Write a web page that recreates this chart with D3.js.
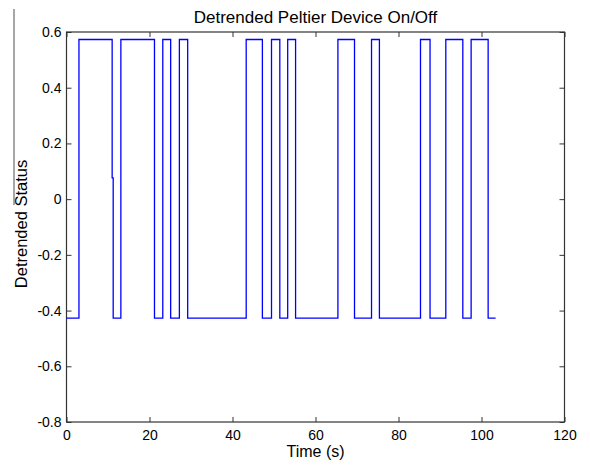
<!DOCTYPE html>
<html>
<head>
<meta charset="utf-8">
<script src="https://cdn.jsdelivr.net/npm/d3@7"></script>
<style>
  html, body { margin: 0; padding: 0; background: #fff; }
  svg { display: block; font-family: "Liberation Sans", Arial, Helvetica, sans-serif; }
  .axis text { font-size: 14px; fill: #000; }
  .axis path { display: none; }
  .axis line { stroke: #333; }
</style>
</head>
<body>
<svg id="chart" width="590" height="466"></svg>
<script>
// DATA: times (s) where the status changes, and the level held from that time on
const stepTimes = [0, 3.0, 11.0, 11.25, 13.1, 21.2, 23.2, 25.1, 27.2, 29.2, 43.3, 47.2,
  49.4, 51.4, 53.3, 55.2, 65.4, 69.4, 73.5, 75.4, 85.3, 87.6, 91.4, 95.5, 97.5, 101.6, 103.4];
const statusValues = [-0.427, 0.573, 0.076, -0.427, 0.573, -0.427, 0.573, -0.427, 0.573, -0.427, 0.573, -0.427,
  0.573, -0.427, 0.573, -0.427, 0.573, -0.427, 0.573, -0.427, 0.573, -0.427, 0.573, -0.427, 0.573, -0.427, -0.427];

const xTicks = [0, 20, 40, 60, 80, 100, 120];
const yTicks = [-0.8, -0.6, -0.4, -0.2, 0, 0.2, 0.4, 0.6];

const titleText = "Detrended Peltier Device On/Off";
const xLabel = "Time (s)";
const yLabel = "Detrended Status";

// LAYOUT
const plot = { left: 66.5, right: 564.5, top: 32, bottom: 422 };

const svg = d3.select("#chart");

// scan artifact at the far left of the figure
svg.append("line")
  .attr("x1", 14).attr("x2", 14)
  .attr("y1", 9).attr("y2", 205)
  .attr("stroke", "#8a8a8a")
  .attr("stroke-width", 1.5);

const x = d3.scaleLinear().domain([0, 120]).range([plot.left, plot.right]);
const y = d3.scaleLinear().domain([-0.8, 0.6]).range([plot.bottom, plot.top]);

const fmt = d => d === 0 ? "0" : d3.format(".1f")(d).replace("−", "-");

// AXES (MATLAB style: ticks point inward, on all four sides)
svg.append("g")
  .attr("class", "axis")
  .attr("transform", `translate(0,${plot.bottom})`)
  .call(d3.axisBottom(x).tickValues(xTicks).tickSizeInner(-5).tickSizeOuter(0).tickPadding(8).tickFormat(d3.format("d")));

svg.append("g")
  .attr("class", "axis")
  .attr("transform", `translate(0,${plot.top})`)
  .call(d3.axisTop(x).tickValues(xTicks).tickSizeInner(-5).tickSizeOuter(0).tickFormat(""));

svg.append("g")
  .attr("class", "axis")
  .attr("transform", `translate(${plot.left},0)`)
  .call(d3.axisLeft(y).tickValues(yTicks).tickSizeInner(-5).tickSizeOuter(0).tickPadding(5).tickFormat(fmt));

svg.append("g")
  .attr("class", "axis")
  .attr("transform", `translate(${plot.right},0)`)
  .call(d3.axisRight(y).tickValues(yTicks).tickSizeInner(-5).tickSizeOuter(0).tickFormat(""));

svg.selectAll(".axis text").attr("fill", "#000");

// BOX
svg.append("rect")
  .attr("x", plot.left).attr("y", plot.top)
  .attr("width", plot.right - plot.left)
  .attr("height", plot.bottom - plot.top)
  .attr("fill", "none")
  .attr("stroke", "#333")
  .attr("stroke-width", 1.2);

// STEP LINE
const points = stepTimes.map((t, i) => [t, statusValues[i]]);

const line = d3.line()
  .x(d => x(d[0]))
  .y(d => y(d[1]))
  .curve(d3.curveStepAfter);

svg.append("path")
  .datum(points)
  .attr("d", line)
  .attr("fill", "none")
  .attr("stroke", "#0000ff")
  .attr("stroke-width", 1.3);

// TEXT
svg.append("text")
  .attr("x", (plot.left + plot.right) / 2)
  .attr("y", 23)
  .attr("text-anchor", "middle")
  .style("font-size", "17px")
  .text(titleText);

svg.append("text")
  .attr("x", (plot.left + plot.right) / 2)
  .attr("y", 457)
  .attr("text-anchor", "middle")
  .style("font-size", "16px")
  .text(xLabel);

svg.append("text")
  .attr("transform", `translate(27,${(plot.top + plot.bottom) / 2 - 3}) rotate(-90)`)
  .attr("text-anchor", "middle")
  .style("font-size", "16.5px")
  .text(yLabel);
</script>
</body>
</html>
